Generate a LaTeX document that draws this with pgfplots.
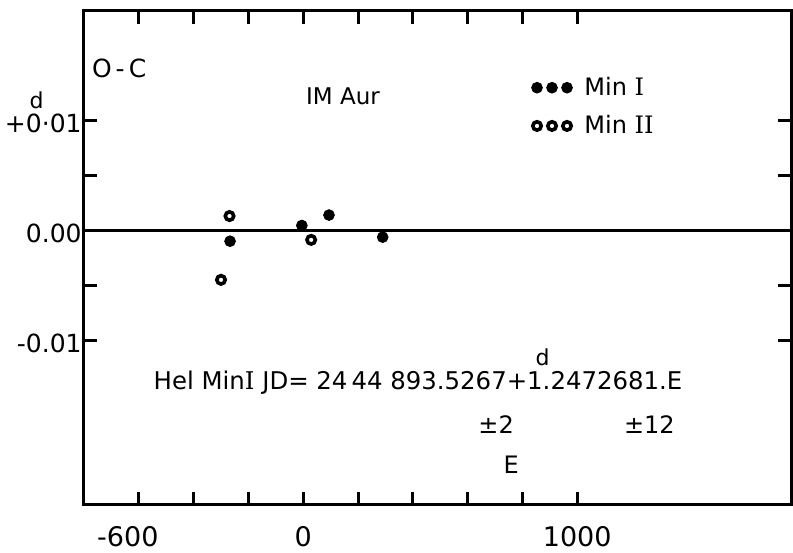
\documentclass[border=0pt]{standalone}
\usepackage{fontspec}
\setmainfont{DejaVu Sans}
\newfontfamily\slab{DejaVu Serif}
\usepackage{pgfplots}
\pgfplotsset{compat=1.18}
\newcommand{\RI}{{\slab I}}

\begin{document}
\begin{tikzpicture}
\begin{axis}[
    name=ax,
    scale only axis,
    width=353.5pt, height=247pt,
    xmin=-800, xmax=1780,
    ymin=-0.025, ymax=0.02,
    clip=false,
    axis line style={line width=1.5pt},
    every tick/.style={black, line width=1.5pt},
    major tick length=6.5pt,
    xtick={-600,-400,...,1000},
    xticklabels={-600\hspace*{11pt},,,0,,,,,1000},
    ytick={-0.01,-0.005,0,0.005,0.01},
    yticklabels={-0.01,,0.00,,+0·01},
    tick label style={font=\fontsize{12.5}{14}\selectfont},
    xticklabel style={yshift=-7pt, font=\fontsize{13.5}{15}\selectfont},
    yticklabel style={inner sep=1pt, yshift=-1.5pt},
    legend cell align=left,
    legend image code/.code={\path[#1,only marks] plot coordinates {(0pt,0pt) (7.5pt,0pt) (15pt,0pt)};},
    legend style={at={(axis cs:832,0.01127)}, anchor=west, draw=none, fill=none,
        inner sep=0pt, nodes={inner sep=1pt}, row sep=6.5pt,
        font=\fontsize{12}{14}\selectfont,
        /tikz/every odd column/.append style={column sep=5pt}},
]
% zero line
\addplot[black, line width=1.1pt, forget plot] coordinates {(-800,0) (1780,0)};
% Min I
\addplot[only marks, mark=*, mark size=2.7pt, black] coordinates {
    (-267,-0.00097) (-5,0.00046) (94,0.00141) (290,-0.0006)
};
\addlegendentry{Min \RI}
% Min II
\addplot[only marks, mark=o, mark size=2.1pt, black, mark options={line width=1.8pt}] coordinates {
    (-269,0.00132) (-300,-0.00449) (29,-0.00085)
};
\addlegendentry{Min \RI\RI}

\node[anchor=west, inner sep=0pt, font=\fontsize{12.5}{14}\selectfont] at (axis cs:-772,0.0148) {O\kern2pt-\kern2pt C};
\node[font=\fontsize{11.5}{13}\selectfont] at (axis cs:145,0.01224) {IM Aur};
\node[font=\fontsize{11}{13}\selectfont] at (axis cs:-973,0.01188) {d};
\node[anchor=base west, inner sep=0pt, font=\fontsize{12.2}{14}\selectfont] at (axis cs:-547,-0.0145)
    {Hel Min\RI\ JD= 24\,44 893.5267+1.2472681.E};
\node[inner sep=0pt, font=\fontsize{11}{13}\selectfont] at (axis cs:874,-0.01158) {d};
\node[font=\fontsize{12}{14}\selectfont] at (axis cs:704,-0.0177) {±2};
\node[font=\fontsize{12}{14}\selectfont] at (axis cs:1263,-0.0177) {±12};
\node[font=\fontsize{12}{14}\selectfont] at (axis cs:759,-0.02137) {E};
\end{axis}
\pgfresetboundingbox
\path ([shift={(-42pt,-24pt)}]ax.south west) rectangle ([shift={(1pt,5.5pt)}]ax.north east);
\end{tikzpicture}
\end{document}
